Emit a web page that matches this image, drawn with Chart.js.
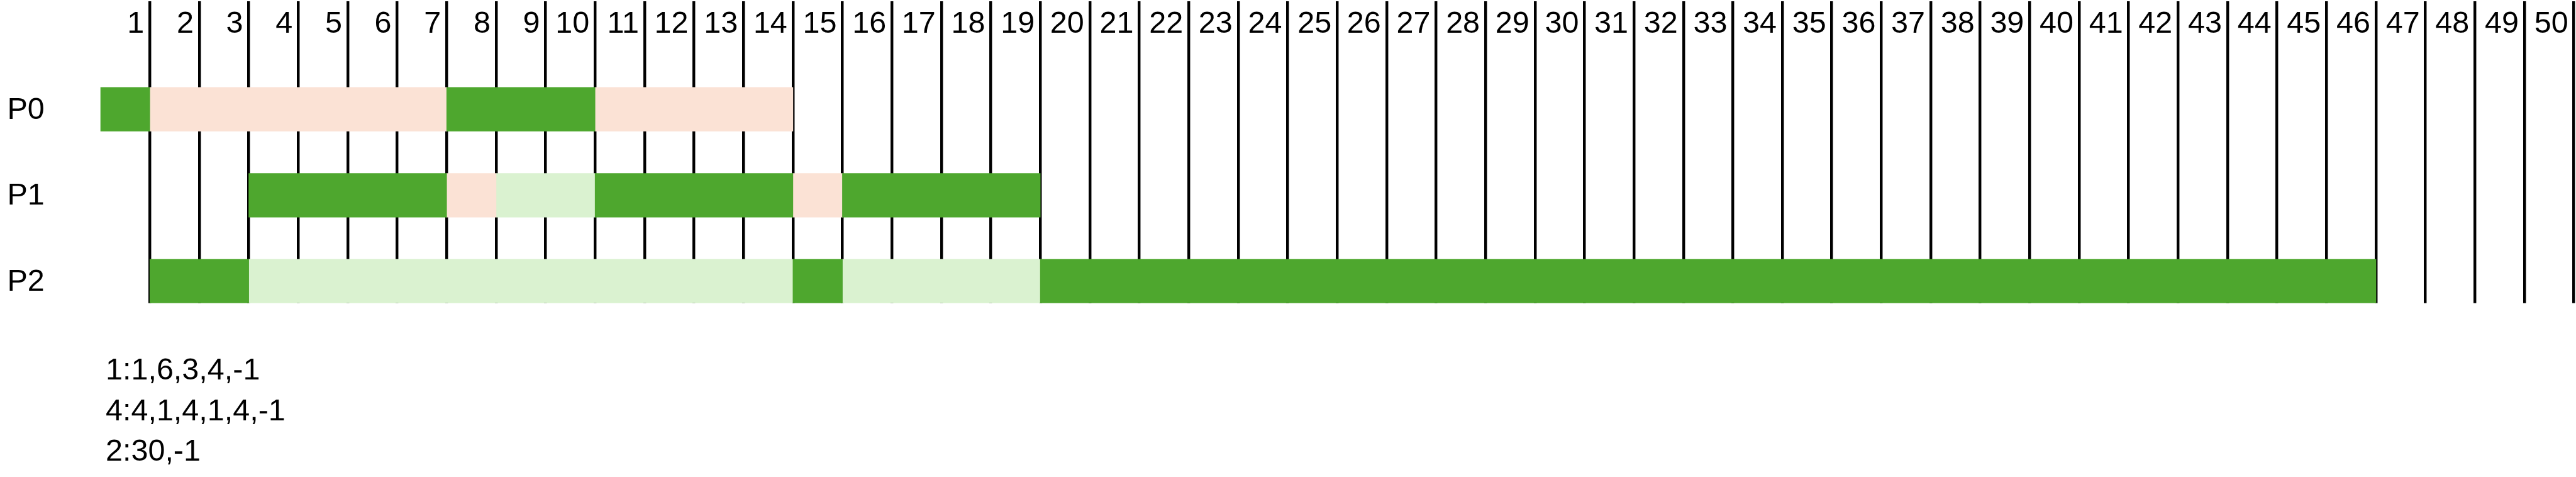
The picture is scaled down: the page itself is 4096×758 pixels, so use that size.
<!DOCTYPE html>
<html>
<head>
<meta charset="utf-8">
<title>Process schedule</title>
<script src="https://cdn.jsdelivr.net/npm/chart.js@4.4.1/dist/chart.umd.min.js"></script>
<style>
  html, body { margin: 0; padding: 0; background: #fff; }
  #wrap { width: 4096px; height: 758px; position: relative; }
</style>
</head>
<body>
<div id="wrap"><canvas id="chartContainer"></canvas></div>
<script>
// rows and time slots
const rowLabels = ['P0', 'P1', 'P2'];
const colLabels = ['1', '2', '3', '4', '5', '6', '7', '8', '9', '10',
    '11', '12', '13', '14', '15', '16', '17', '18', '19', '20',
    '21', '22', '23', '24', '25', '26', '27', '28', '29', '30',
    '31', '32', '33', '34', '35', '36', '37', '38', '39', '40',
    '41', '42', '43', '44', '45', '46', '47', '48', '49', '50'];

// [row, from slot, to slot] (slot edges, 0 = left of slot 1)
const running = [
    ['P0', 0, 1], ['P0', 7, 10],
    ['P1', 3, 7], ['P1', 10, 14], ['P1', 15, 19],
    ['P2', 1, 3], ['P2', 14, 15], ['P2', 19, 46]
];
const blocked = [
    ['P0', 1, 7], ['P0', 10, 14],
    ['P1', 7, 8], ['P1', 14, 15]
];
const ready = [
    ['P1', 8, 10],
    ['P2', 3, 14], ['P2', 15, 19]
];

// input lines shown under the chart
const notes = ['1:1,6,3,4,-1', '4:4,1,4,1,4,-1', '2:30,-1'];

const FONT = '"Liberation Sans", Arial, Helvetica, sans-serif';
Chart.defaults.font.family = FONT;
Chart.defaults.color = '#000';

function toBars(list) {
    return list.map(item => ({ y: rowLabels.indexOf(item[0]), x: [item[1], item[2]] }));
}

function makeDataset(label, list, color) {
    return {
        label: label,
        data: toBars(list),
        backgroundColor: color,
        borderWidth: 0,
        barThickness: 69.5,
        grouped: false
    };
}

// text lines below the grid
const notesPlugin = {
    id: 'notes',
    afterDraw(chart) {
        const ctx = chart.ctx;
        ctx.save();
        ctx.font = '48.5px ' + FONT;
        ctx.fillStyle = '#000';
        ctx.textAlign = 'left';
        ctx.textBaseline = 'alphabetic';
        notes.forEach((t, i) => {
            ctx.fillText(t, 168, 603.4 + i * 64.5);
        });
        ctx.restore();
    }
};

function renderChart() {
    const ctx = document.getElementById('chartContainer').getContext('2d');
    new Chart(ctx, {
        type: 'bar',
        data: {
            datasets: [
                makeDataset('running', running, '#4EA72E'),
                makeDataset('blocked', blocked, '#FBE2D5'),
                makeDataset('ready', ready, '#DAF2D0')
            ]
        },
        options: {
            indexAxis: 'y',
            responsive: true,
            maintainAspectRatio: false,
            devicePixelRatio: 1,
            animation: false,
            layout: {
                padding: { left: 11.5, top: 0, right: 3.4, bottom: 276.3 }
            },
            plugins: {
                legend: { display: false },
                tooltip: { enabled: false }
            },
            scales: {
                x: {
                    type: 'linear',
                    position: 'top',
                    min: 0,
                    max: 50,
                    offset: false,
                    z: 1,
                    afterBuildTicks: scale => {
                        scale.ticks = colLabels.map((l, i) => ({ value: i + 1 }));
                    },
                    afterFit: scale => {
                        scale.height = 2.09;
                        scale.paddingLeft = 0;
                        scale.paddingRight = 0;
                    },
                    border: { display: false },
                    grid: {
                        color: '#000',
                        lineWidth: 4.44,
                        drawTicks: false,
                        tickLength: 0
                    },
                    ticks: {
                        autoSkip: false,
                        maxRotation: 0,
                        minRotation: 0,
                        align: 'end',
                        mirror: true,
                        padding: 12.35,
                        labelOffset: -9,
                        font: { size: 48.5, lineHeight: 1 },
                        callback: v => colLabels[v - 1]
                    }
                },
                y: {
                    type: 'linear',
                    reverse: true,
                    offset: false,
                    min: -1.2563,
                    max: 2.2548,
                    afterBuildTicks: scale => {
                        scale.ticks = rowLabels.map((l, i) => ({ value: i }));
                    },
                    afterFit: scale => {
                        scale.width = 148.1;
                        scale.paddingTop = 0;
                        scale.paddingBottom = 0;
                    },
                    border: { display: false },
                    grid: { display: false, drawTicks: false, offset: false },
                    ticks: {
                        crossAlign: 'far',
                        padding: 0,
                        labelOffset: 1.5,
                        font: { size: 48.5, lineHeight: 1 },
                        callback: v => rowLabels[v]
                    }
                }
            }
        },
        plugins: [notesPlugin]
    });
}

renderChart();
</script>
</body>
</html>
